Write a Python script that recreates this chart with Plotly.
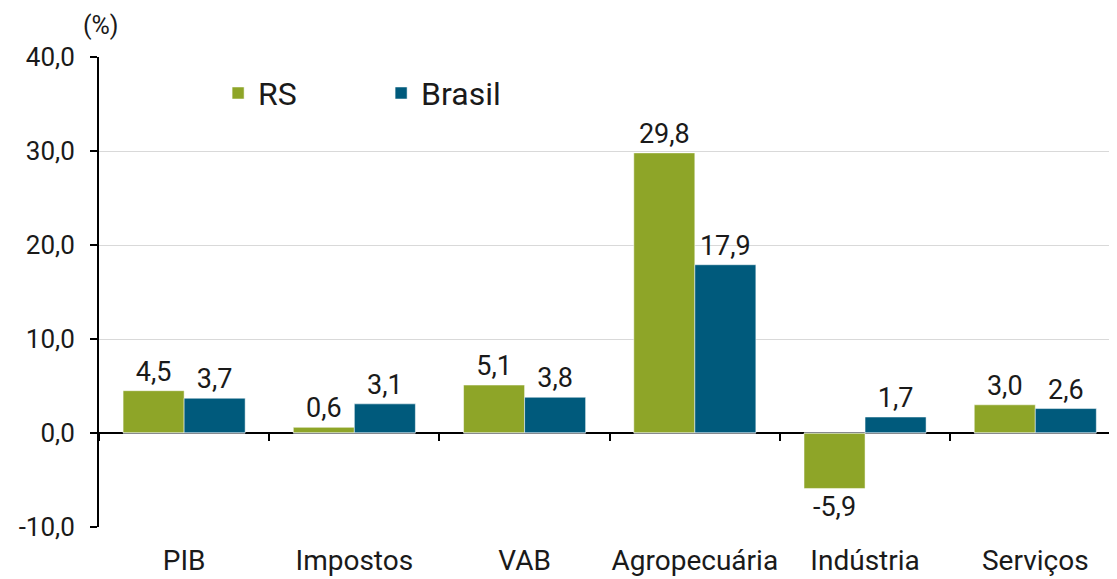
import plotly.graph_objects as go

# Data
categories = ["PIB", "Impostos", "VAB", "Agropecuária", "Indústria", "Serviços"]
rs_values = [4.5, 0.6, 5.1, 29.8, -5.9, 3.0]
brasil_values = [3.7, 3.1, 3.8, 17.9, 1.7, 2.6]
y_ticks = [-10, 0, 10, 20, 30, 40]
y_tick_labels = ["-10,0", "0,0", "10,0", "20,0", "30,0", "40,0"]

RS_COLOR = "#8ea528"
BRASIL_COLOR = "#005a7c"
FONT = "Roboto"
TEXT_COLOR = "#1a1a1a"

fig = go.Figure()

fig.add_trace(go.Bar(
    x=categories, y=rs_values, name="RS",
    marker=dict(color=RS_COLOR, line=dict(color="#ffffff", width=0.5)),
    texttemplate="%{y:.1f}", textposition="outside", cliponaxis=False,
    textfont=dict(family=FONT, size=27, color=TEXT_COLOR),
))
fig.add_trace(go.Bar(
    x=categories, y=brasil_values, name="Brasil",
    marker=dict(color=BRASIL_COLOR, line=dict(color="#ffffff", width=0.5)),
    texttemplate="%{y:.1f}", textposition="outside", cliponaxis=False,
    textfont=dict(family=FONT, size=27, color=TEXT_COLOR),
))

# invisible trace so the second x axis (tick marks on the zero line) is drawn
fig.add_trace(go.Bar(x=categories, y=[0] * len(categories), xaxis="x2",
                     showlegend=False, hoverinfo="skip", marker_color="rgba(0,0,0,0)"))

# the original plot runs slightly past the right edge of the picture
x_range = [-0.5, 5.48]

fig.update_layout(
    width=1109, height=571,
    plot_bgcolor="#ffffff", paper_bgcolor="#ffffff",
    separators=",.",
    barmode="group", bargap=0.283, bargroupgap=0,
    font=dict(family=FONT, size=26, color=TEXT_COLOR),
    margin=dict(l=91, r=0, t=49, b=52),
    legend=dict(
        orientation="h", x=0.117, y=0.923, xanchor="left", yanchor="middle",
        font=dict(family=FONT, size=32, color=TEXT_COLOR),
        bgcolor="rgba(0,0,0,0)", itemwidth=30, entrywidth=118,
    ),
    xaxis=dict(
        automargin=False, range=x_range,
        showline=False, ticks="", showgrid=False, zeroline=False,
        ticklabelstandoff=14,
        tickfont=dict(family=FONT, size=28, color=TEXT_COLOR),
    ),
    xaxis2=dict(
        automargin=False,
        overlaying="x", anchor="free", position=0.2, matches="x",
        showticklabels=False, ticks="outside", tickson="boundaries",
        ticklen=7, tickwidth=2, tickcolor="#000000",
        showline=False, showgrid=False, zeroline=False,
    ),
    yaxis=dict(
        automargin=False,
        range=[-10, 40], tickvals=y_ticks, ticktext=y_tick_labels,
        showgrid=True, gridcolor="#d9d9d9", gridwidth=1,
        zeroline=True, zerolinecolor="#000000", zerolinewidth=2,
        showline=True, linecolor="#000000", linewidth=2,
        ticks="outside", ticklen=7, tickwidth=2, tickcolor="#000000",
        ticklabelstandoff=10,
        tickfont=dict(family=FONT, size=26, color=TEXT_COLOR),
    ),
    annotations=[dict(
        text="(%)", xref="paper", yref="paper", x=0.002, y=1.0,
        xanchor="center", yanchor="middle", yshift=32, showarrow=False,
        font=dict(family=FONT, size=25, color=TEXT_COLOR),
    )],
)

fig.write_html("out.html")
